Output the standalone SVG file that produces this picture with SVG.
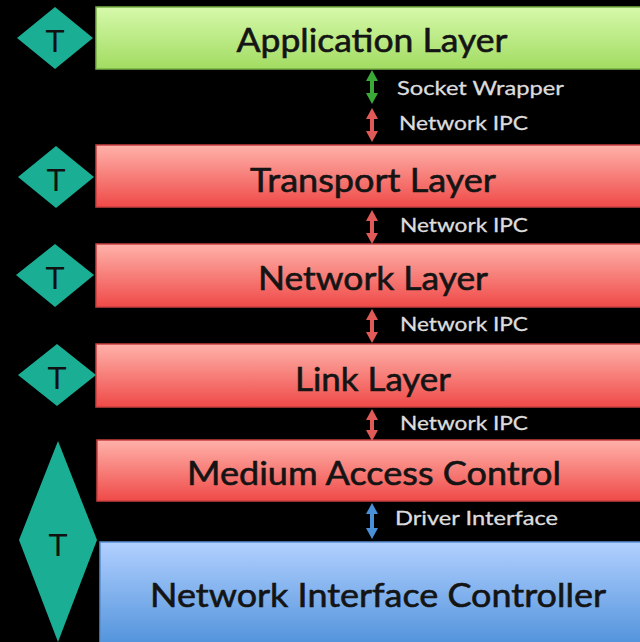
<svg xmlns="http://www.w3.org/2000/svg" width="640" height="642" viewBox="0 0 640 642">
  <defs>
    <linearGradient id="gGreen" x1="0" y1="0" x2="0" y2="1">
      <stop offset="0" stop-color="#d6f9aa"/>
      <stop offset="1" stop-color="#a2dc62"/>
    </linearGradient>
    <linearGradient id="gRed" x1="0" y1="0" x2="0" y2="1">
      <stop offset="0" stop-color="#ffb2aa"/>
      <stop offset="1" stop-color="#ef4a48"/>
    </linearGradient>
    <linearGradient id="gBlue" x1="0" y1="0" x2="0" y2="1">
      <stop offset="0" stop-color="#b2d0ff"/>
      <stop offset="1" stop-color="#4b8fd9"/>
    </linearGradient>
    <marker id="headGreen" viewBox="0 0 11 12" refX="1" refY="6" markerWidth="11" markerHeight="12" markerUnits="userSpaceOnUse" orient="auto-start-reverse">
      <path d="M0,0 L11,6 L0,12 Z" fill="#3aa936"/>
    </marker>
    <marker id="headRed" viewBox="0 0 11 12" refX="1" refY="6" markerWidth="11" markerHeight="12" markerUnits="userSpaceOnUse" orient="auto-start-reverse">
      <path d="M0,0 L11,6 L0,12 Z" fill="#e05a58"/>
    </marker>
    <marker id="headBlue" viewBox="0 0 11 12" refX="1" refY="6" markerWidth="11" markerHeight="12" markerUnits="userSpaceOnUse" orient="auto-start-reverse">
      <path d="M0,0 L11,6 L0,12 Z" fill="#4a90d8"/>
    </marker>
  </defs>
  <style>
    .bar-green { fill: url(#gGreen); stroke: #78b048; stroke-width: 1.5; }
    .bar-red { fill: url(#gRed); stroke: #c84040; stroke-width: 1.5; }
    .bar-blue { fill: url(#gBlue); stroke: #5a8ed0; stroke-width: 1.5; }
    .title { font-family: Lato, "Open Sans", "Liberation Sans", sans-serif; font-size: 33px; fill: #141414; stroke: #141414; stroke-width: 0.6; text-anchor: middle; }
    .diamond { fill: #1aae94; }
    .tee { font-family: "Liberation Sans", Arial, sans-serif; font-size: 32px; fill: #111; text-anchor: middle; }
    .label { font-family: Lato, "Open Sans", "Liberation Sans", sans-serif; font-size: 19px; fill: #dcdcdc; stroke: #dcdcdc; stroke-width: 0.3; }
    .arr-green { stroke: #3aa936; stroke-width: 4; marker-start: url(#headGreen); marker-end: url(#headGreen); }
    .arr-red { stroke: #e05a58; stroke-width: 4; marker-start: url(#headRed); marker-end: url(#headRed); }
    .arr-blue { stroke: #4a90d8; stroke-width: 4; marker-start: url(#headBlue); marker-end: url(#headBlue); }
  </style>

  <rect x="0" y="0" width="640" height="642" fill="#000"/>

  <!-- protocol layers -->
  <g id="application">
    <rect class="bar-green" x="96" y="7" width="560" height="62"/>
    <text class="title" x="372" y="52" textLength="271" lengthAdjust="spacingAndGlyphs">Application Layer</text>
  </g>
  <g id="transport">
    <rect class="bar-red" x="96" y="145" width="560" height="62"/>
    <text class="title" x="373" y="192" textLength="246" lengthAdjust="spacingAndGlyphs">Transport Layer</text>
  </g>
  <g id="network">
    <rect class="bar-red" x="96" y="244" width="560" height="63"/>
    <text class="title" x="373" y="290" textLength="230" lengthAdjust="spacingAndGlyphs">Network Layer</text>
  </g>
  <g id="link">
    <rect class="bar-red" x="96" y="344" width="560" height="63"/>
    <text class="title" x="373" y="391" textLength="156" lengthAdjust="spacingAndGlyphs">Link Layer</text>
  </g>
  <g id="mac">
    <rect class="bar-red" x="97" y="440" width="560" height="61"/>
    <text class="title" x="374" y="485" textLength="374" lengthAdjust="spacingAndGlyphs">Medium Access Control</text>
  </g>
  <g id="nic">
    <rect class="bar-blue" x="100" y="542" width="560" height="110"/>
    <text class="title" x="378" y="607" textLength="456" lengthAdjust="spacingAndGlyphs">Network Interface Controller</text>
  </g>

  <!-- T markers -->
  <g id="t-application">
    <polygon class="diamond" points="17,38 55,7 93,38 55,69"/>
    <text class="tee" x="55" y="52">T</text>
  </g>
  <g id="t-transport">
    <polygon class="diamond" points="18,177 56,146 94,177 56,208"/>
    <text class="tee" x="56" y="191">T</text>
  </g>
  <g id="t-network">
    <polygon class="diamond" points="16,275 55,244 94,275 55,307"/>
    <text class="tee" x="55" y="289">T</text>
  </g>
  <g id="t-link">
    <polygon class="diamond" points="18,375 57,344 96,375 57,406"/>
    <text class="tee" x="57" y="389">T</text>
  </g>
  <g id="t-hardware">
    <polygon class="diamond" points="19,540 58,441 97,540 58,642"/>
    <text class="tee" x="58" y="556">T</text>
  </g>

  <!-- interfaces between layers -->
  <g id="connectors">
    <line class="arr-green" x1="372" y1="80" x2="372" y2="94"/>
    <line class="arr-red" x1="372" y1="118" x2="372" y2="132"/>
    <line class="arr-red" x1="372" y1="220" x2="372" y2="234"/>
    <line class="arr-red" x1="372" y1="319" x2="372" y2="333"/>
    <line class="arr-red" x1="372" y1="419" x2="372" y2="431"/>
    <line class="arr-blue" x1="372" y1="513" x2="372" y2="529"/>
    <text class="label" x="397" y="95" textLength="167" lengthAdjust="spacingAndGlyphs">Socket Wrapper</text>
    <text class="label" x="399" y="130" textLength="129" lengthAdjust="spacingAndGlyphs">Network IPC</text>
    <text class="label" x="400" y="232" textLength="128" lengthAdjust="spacingAndGlyphs">Network IPC</text>
    <text class="label" x="400" y="331" textLength="128" lengthAdjust="spacingAndGlyphs">Network IPC</text>
    <text class="label" x="400" y="430" textLength="128" lengthAdjust="spacingAndGlyphs">Network IPC</text>
    <text class="label" x="395" y="525" textLength="163" lengthAdjust="spacingAndGlyphs">Driver Interface</text>
  </g>
</svg>
